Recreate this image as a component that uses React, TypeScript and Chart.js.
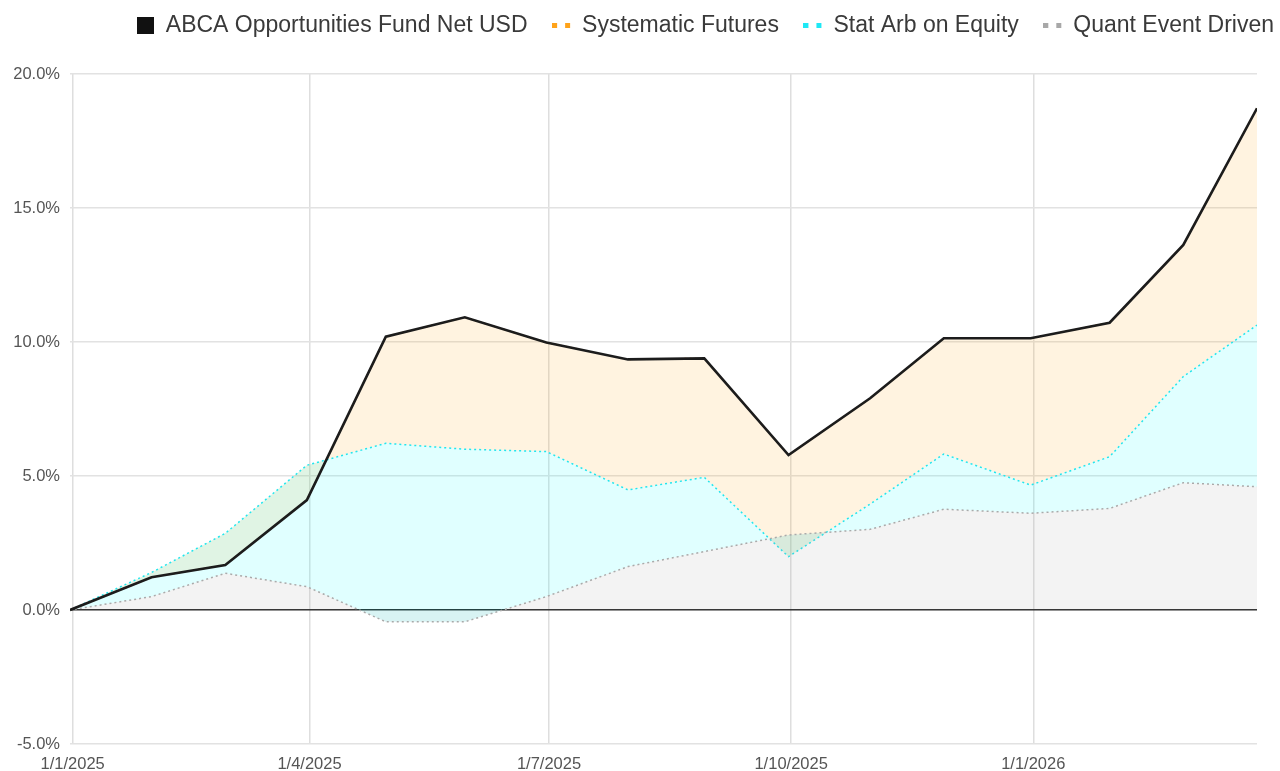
import React, { useEffect, useRef } from 'react';
import { Chart, registerables } from 'chart.js';

Chart.register(...registerables);

// ---- data (percent) ----
const seriesLabels = [
  'ABCA Opportunities Fund Net USD',
  'Systematic Futures',
  'Stat Arb on Equity',
  'Quant Event Driven',
];

const dates = [
  '2024-12-31', '2025-01-31', '2025-02-28', '2025-03-31', '2025-04-30', '2025-05-30',
  '2025-06-30', '2025-07-31', '2025-08-29', '2025-09-30', '2025-10-31', '2025-11-28',
  '2025-12-31', '2026-01-30', '2026-02-27', '2026-03-27',
];

// cumulative fund return
const fundNet = [0, 1.22, 1.68, 4.1, 10.2, 10.92, 9.98, 9.35, 9.39, 5.78, 7.9, 10.14, 10.14, 10.72, 13.62, 18.72];
// stacked contributions (bottom to top: Quant Event Driven, Stat Arb on Equity, Systematic Futures)
const quantEventDriven = [0, 0.5, 1.37, 0.87, -0.44, -0.44, 0.5, 1.62, 2.18, 2.8, 3.01, 3.76, 3.61, 3.79, 4.75, 4.6];
const statArbOnEquity = [0, 0.9, 1.49, 4.53, 6.66, 6.44, 5.41, 2.86, 2.77, -0.81, 0.94, 2.06, 1.05, 1.93, 3.96, 6.03];
const systematicFutures = [0, -0.18, -1.18, -1.3, 3.98, 4.92, 4.07, 4.87, 4.44, 3.79, 3.95, 4.32, 5.48, 5.0, 4.91, 8.09];

const xTickDates = ['2025-01-01', '2025-04-01', '2025-07-01', '2025-10-01', '2026-01-01'];
const yMin = -5;
const yMax = 20;
const yStep = 5;

const toMs = (s: string) => {
  const [y, m, d] = s.split('-').map(Number);
  return Date.UTC(y, m - 1, d);
};
const fmtDate = (ms: number) => {
  const d = new Date(ms);
  return `${d.getUTCDate()}/${d.getUTCMonth() + 1}/${d.getUTCFullYear()}`;
};
const pts = (vals: number[]) => vals.map((v, i) => ({ x: toMs(dates[i]), y: v }));

const FONT = "'Liberation Sans', Arial, Helvetica, sans-serif";

export default function App() {
  const ref = useRef<HTMLCanvasElement>(null);

  useEffect(() => {
    document.body.style.margin = '0';
    const canvas = ref.current!;
    const mk = (w: number, h: number, draw: (g: CanvasRenderingContext2D) => void) => {
      const c = document.createElement('canvas');
      c.width = w;
      c.height = h;
      draw(c.getContext('2d')!);
      return c;
    };
    const fundIcon = mk(17, 17, (g) => {
      g.fillStyle = '#111111';
      g.fillRect(0, 0, 17, 17);
    });
    const dots = (col: string) =>
      mk(19, 5, (g) => {
        g.fillStyle = col;
        g.fillRect(0, 0, 5, 5);
        g.fillRect(13, 0, 5, 5);
      });
    const icons = [fundIcon, dots('#ffa31a'), dots('#1ee8f5'), dots('#a8a8a8')];

    const chart = new Chart(canvas, {
      type: 'line',
      data: {
        datasets: [
          {
            label: seriesLabels[0],
            data: pts(fundNet),
            borderColor: '#1c1c1c',
            borderWidth: 2.6,
            fill: false,
            stack: 'fund',
            order: 0,
            pointRadius: 0,
            tension: 0,
          },
          {
            label: seriesLabels[1],
            data: pts(systematicFutures),
            borderColor: '#ff9900',
            backgroundColor: 'rgba(255,153,0,0.12)',
            borderWidth: 1.5,
            borderDash: [2, 3],
            fill: 2,
            stack: 'parts',
            order: 3,
            pointRadius: 0,
            tension: 0,
          },
          {
            label: seriesLabels[2],
            data: pts(statArbOnEquity),
            borderColor: '#22e6ee',
            backgroundColor: 'rgba(0,255,255,0.12)',
            borderWidth: 1.5,
            borderDash: [2, 3],
            fill: 3,
            stack: 'parts',
            order: 2,
            pointRadius: 0,
            tension: 0,
          },
          {
            label: seriesLabels[3],
            data: pts(quantEventDriven),
            borderColor: '#aaaaaa',
            backgroundColor: 'rgba(153,153,153,0.12)',
            borderWidth: 1.5,
            borderDash: [2, 3],
            fill: 'origin',
            stack: 'parts',
            order: 1,
            pointRadius: 0,
            tension: 0,
          },
        ],
      },
      options: {
        responsive: false,
        animation: false,
        devicePixelRatio: 1,
        layout: { padding: 0 },
        plugins: {
          tooltip: { enabled: false },
          title: {
            display: true,
            text: '',
            weight: 500,
            position: 'top',
            padding: { top: 26, bottom: 0 },
            font: { size: 1, lineHeight: 1 },
          },
          legend: {
            display: true,
            position: 'top',
            align: 'end',
            labels: {
              usePointStyle: true,
              pointStyleWidth: 18,
              padding: 25,
              color: '#3a3a3a',
              font: { family: FONT, size: 23 },
              sort: (a: any, b: any) => a.datasetIndex - b.datasetIndex,
              generateLabels: (ch: any) => {
                const items = Chart.defaults.plugins.legend.labels.generateLabels(ch);
                items.forEach((it: any) => {
                  it.pointStyle = icons[it.datasetIndex];
                });
                return items;
              },
            },
          },
        },
        scales: {
          x: {
            type: 'linear',
            min: toMs(dates[0]),
            max: toMs(dates[dates.length - 1]),
            afterBuildTicks: (scale: any) => {
              scale.ticks = xTickDates.map((d) => ({ value: toMs(d) }));
            },
            afterFit: (scale: any) => {
              scale.height = 27;
              scale.paddingRight = 42;
            },
            ticks: {
              autoSkip: false,
              maxRotation: 0,
              padding: 11,
              color: '#555555',
              font: { family: FONT, size: 16.5 },
              callback: (v: any) => fmtDate(Number(v)),
            },
            grid: { color: '#dedede', lineWidth: 1.5, drawTicks: false },
            border: { display: false },
          },
          y: {
            type: 'linear',
            stacked: 'single',
            min: yMin,
            max: yMax,
            afterFit: (scale: any) => {
              scale.width = 70;
            },
            ticks: {
              stepSize: yStep,
              padding: 10,
              color: '#555555',
              font: { family: FONT, size: 16.5 },
              callback: (v: any) => `${Number(v).toFixed(1)}%`,
            },
            grid: {
              color: (ctx: any) => (ctx.tick && ctx.tick.value === 0 ? '#2a2a2a' : '#e2e2e2'),
              lineWidth: 1.5,
              drawTicks: false,
            },
            border: { display: false },
          },
        },
      } as any,
    });
    return () => chart.destroy();
  }, []);

  return (
    <div style={{ position: 'relative', width: 1280, height: 771, overflow: 'hidden', background: '#ffffff' }}>
      <canvas
        ref={ref}
        width={1299}
        height={782}
        style={{ position: 'absolute', left: 0, top: -11, width: 1299, height: 782 }}
      />
    </div>
  );
}
